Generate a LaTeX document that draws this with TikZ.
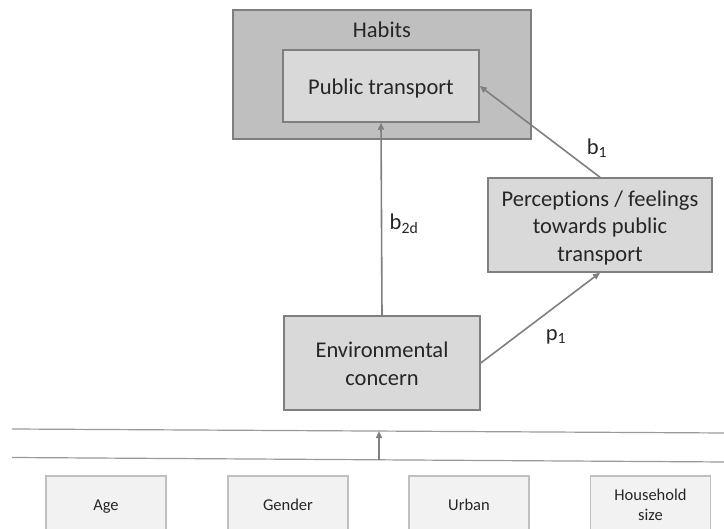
\documentclass[tikz,border=0pt]{standalone}
\usepackage{fontspec}
\setmainfont{Carlito}[Ligatures=NoCommon]
\usetikzlibrary{arrows.meta,calc}
\newcommand{\lowstrut}{\rule[-0.19\baselineskip]{0pt}{\baselineskip}}
\definecolor{outerfill}{HTML}{BFBFBF}
\definecolor{innerfill}{HTML}{D9D9D9}
\definecolor{boxline}{HTML}{7F7F7F}
\definecolor{lightfill}{HTML}{F2F2F2}
\definecolor{lightline}{HTML}{BFBFBF}
\definecolor{txt}{HTML}{262626}
\tikzset{
  mainbox/.style={draw=boxline, line width=1.5pt, fill=innerfill, text=txt,
    font=\fontsize{22.5}{27.5}\selectfont, align=center, inner sep=0pt},
  outerbox/.style={draw=boxline, line width=1.5pt, fill=outerfill, inner sep=0pt},
  smallbox/.style={draw=lightline, line width=1.5pt, fill=lightfill, text=txt,
    font=\fontsize{16.5}{20}\selectfont, align=center, inner sep=0pt,
    minimum width=120pt, minimum height=57pt},
  conn/.style={draw=boxline, line width=1.6pt, -{Triangle[length=7pt,width=6pt]}},
  lab/.style={text=txt, font=\fontsize{22.5}{27.5}\selectfont, inner sep=0pt},
  sepline/.style={draw=boxline!80, line width=1.2pt}
}
\begin{document}
\begin{tikzpicture}[x=1pt,y=-1pt]
\useasboundingbox (0,0) rectangle (724,529);
\clip (0,0) rectangle (724,529);
% Habits
\node[outerbox, minimum width=298pt, minimum height=129pt] (habits) at (382,74.5) {};
\node[lab] (habitslab) at (382,30) {Habits};
\node[mainbox, minimum width=196pt, minimum height=72pt] (pt) at (381,86) {\lowstrut Public transport};
% Perceptions
\node[mainbox, minimum width=224pt, minimum height=94pt] (perc) at (600,225)
  {\lowstrut Perceptions / feelings\\\lowstrut towards public\\\lowstrut transport};
% Environmental concern
\node[mainbox, minimum width=196pt, minimum height=94pt] (env) at (382,363)
  {\lowstrut Environmental\\\lowstrut concern};
% connectors
\draw[conn] (env.north) -- (pt.south);
\draw[conn] (perc.north) -- (pt.east);
\draw[conn] (env.east) -- (perc.south);
% labels
\node[lab] (b1) at (597,148) {b\textsubscript{1}};
\node[lab] (b2d) at (404,224) {b\textsubscript{2d}};
\node[lab] (p1) at (556,337) {p\textsubscript{1}};
% separator lines
\coordinate (l1a) at (12,429);
\coordinate (l1b) at (726,433);
\coordinate (l2a) at (12,457.5);
\coordinate (l2b) at (726,462);
\draw[sepline] (l1a) -- (l1b);
\draw[sepline] (l2a) -- (l2b);
\coordinate (ua) at ($(l2a)!0.514!(l2b)$);
\coordinate (ub) at ($(l1a)!0.514!(l1b)$);
\draw[conn] (ua) -- (ub);
% bottom boxes
\node[smallbox] (age) at (106,504.5) {\lowstrut Age};
\node[smallbox] (gender) at (288,504.5) {\lowstrut Gender};
\node[smallbox] (urban) at (469,504.5) {\lowstrut Urban};
\node[smallbox] (house) at (650.5,504.5) {\lowstrut Household\\\lowstrut size};
\end{tikzpicture}
\end{document}
